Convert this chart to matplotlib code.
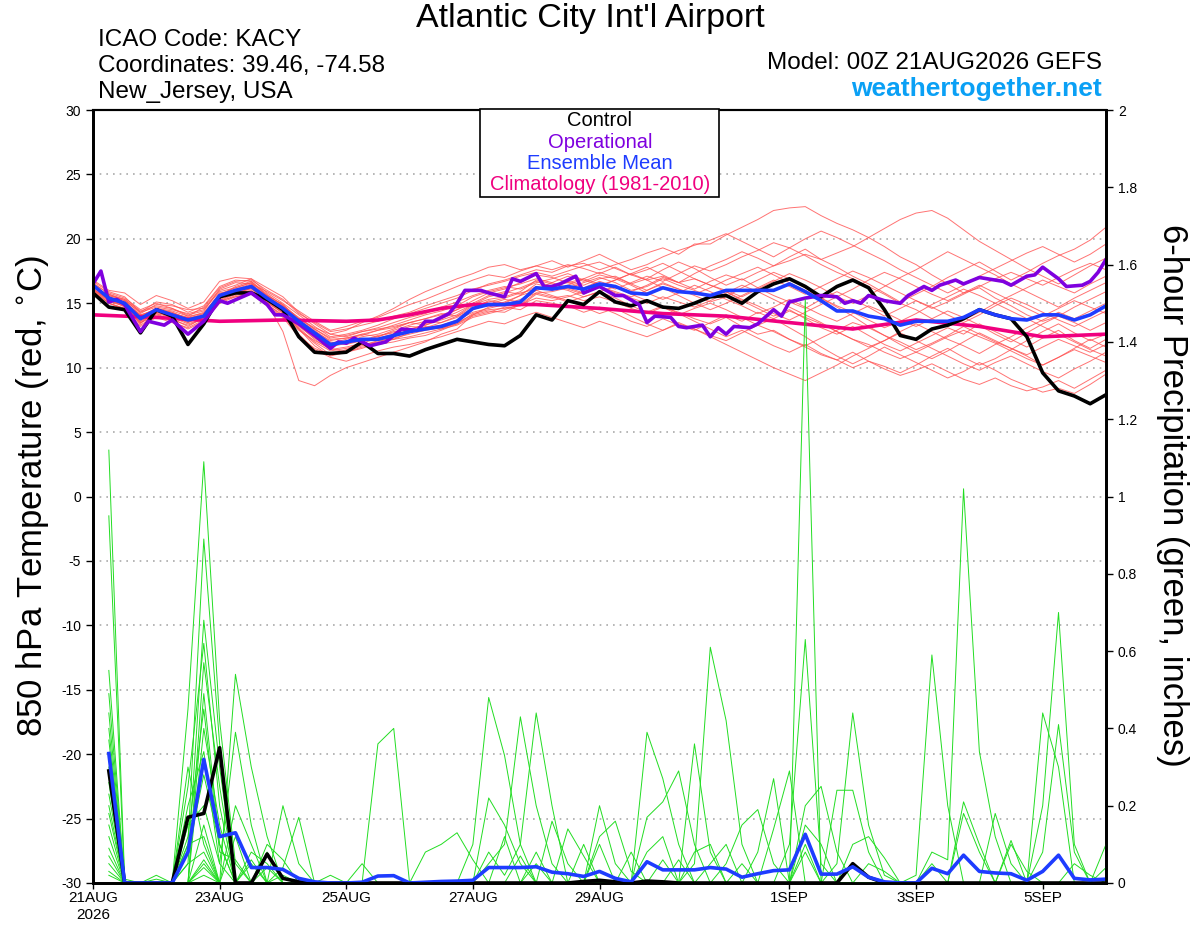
import matplotlib
matplotlib.use('Agg')
import matplotlib.pyplot as plt
from matplotlib.patches import Rectangle

plt.rcParams['font.family'] = ['Liberation Sans', 'DejaVu Sans']
plt.rcParams['axes.unicode_minus'] = False

# ---- data ----
# temperature lines are 6-hourly from 00Z 21AUG (hour 0) to hour 384
temp_hours = list(range(0, 385, 6))
precip_hours = list(range(6, 385, 6))

control_temp = [15.8, 14.7, 14.5, 12.7, 14.5, 14.0, 11.8, 13.4, 15.5, 15.8, 15.8, 15.3, 14.5,
                12.4, 11.2, 11.1, 11.2, 12.0, 11.1, 11.1, 10.9, 11.4, 11.8, 12.2, 12.0, 11.8,
                11.7, 12.5, 14.1, 13.7, 15.2, 14.9, 15.9, 15.1, 14.8, 15.2, 14.7, 14.6, 15.0,
                15.5, 15.6, 15.0, 15.9, 16.5, 16.9, 16.3, 15.5, 16.3, 16.8, 16.2, 14.5, 12.5,
                12.2, 13.0, 13.3, 13.8, 14.5, 14.1, 13.8, 12.4, 9.6, 8.2, 7.8, 7.2, 7.9]

mean_temp = [16.4, 15.4, 15.0, 13.8, 14.5, 14.1, 13.7, 14.0, 15.6, 16.0, 16.3, 15.4, 14.6,
             13.6, 12.7, 11.8, 12.0, 12.2, 12.2, 12.5, 12.8, 13.0, 13.2, 13.6, 14.6, 14.9,
             14.9, 15.1, 16.2, 16.1, 16.3, 16.1, 16.5, 16.3, 15.8, 15.7, 16.2, 15.9, 15.8,
             15.6, 16.0, 16.0, 16.0, 16.0, 16.5, 15.9, 15.2, 14.4, 14.4, 14.0, 13.8, 13.3,
             13.6, 13.6, 13.6, 13.9, 14.5, 14.1, 13.8, 13.7, 14.1, 14.1, 13.7, 14.1, 14.8]

# operational run has finer steps
op_hours = [0, 3, 6, 9, 12, 18, 21, 27, 30, 36, 42, 48, 51, 60, 66, 69, 72, 78, 84, 90,
            93, 96, 99, 105, 111, 117, 123, 126, 129, 135, 138, 141, 147, 150, 156, 159, 162, 168, 171, 174,
            177, 183, 186, 192, 198, 201, 207, 210, 213, 219, 222, 225, 231, 234, 237, 240, 243, 249, 252, 258,
            261, 264, 270, 276, 282, 285, 288, 291, 294, 300, 306, 309, 315, 318, 321, 327, 330, 336, 342, 345,
            348, 354, 357, 360, 366, 369, 375, 378, 381, 384]
op_temp = [16.5, 17.5, 15.1, 15.3, 14.9, 12.8, 13.6, 13.3, 13.7, 12.6, 13.6, 15.2, 15.0, 15.8, 14.9, 14.1, 14.1, 13.4, 12.5, 11.5,
           12.0, 11.9, 12.3, 11.7, 12.0, 13.0, 12.9, 13.6, 13.6, 14.2, 15.0, 16.0, 16.0, 15.8, 15.5, 16.9, 16.7, 17.3, 16.3, 16.3,
           16.5, 17.1, 15.8, 16.3, 15.6, 15.6, 14.9, 13.5, 14.0, 13.9, 13.2, 13.1, 13.3, 12.4, 13.1, 12.6, 13.2, 13.1, 13.4, 14.5,
           14.0, 15.1, 15.4, 15.6, 15.5, 15.0, 15.2, 15.0, 15.6, 15.2, 15.0, 15.6, 16.3, 16.0, 16.4, 16.8, 16.5, 17.0, 16.8, 16.7,
           16.4, 17.1, 17.2, 17.8, 16.9, 16.3, 16.4, 16.7, 17.4, 18.4]

clim_hours = [0, 24, 48, 72, 96, 108, 120, 132, 144, 168, 192, 216, 240, 264, 288, 312, 336, 360, 384]
clim_temp = [14.1, 13.9, 13.6, 13.7, 13.6, 13.7, 14.1, 14.6, 14.9, 14.9, 14.6, 14.2, 14.0, 13.5, 13.0, 13.7, 13.2, 12.4, 12.6]

member_temps = [
    [16.2, 15.6, 15.3, 14.2, 14.9, 14.8, 14.5, 14.6, 16.0, 16.4, 16.9, 15.8, 15.0,
     14.1, 13.2, 12.4, 12.6, 12.9, 13.3, 13.8, 14.2, 14.6, 15.0, 15.4, 16.0, 16.5,
     16.8, 17.2, 17.6, 17.4, 17.9, 18.1, 17.6, 18.0, 18.4, 18.9, 19.3, 18.8, 19.6,
     19.6, 20.3, 20.9, 21.5, 22.2, 22.4, 22.5, 21.8, 21.2, 20.7, 20.1, 19.4, 18.6,
     18.0, 17.2, 16.5, 15.8, 16.2, 15.4, 14.8, 14.1, 13.6, 14.0, 14.7, 15.3, 15.9],
    [16.0, 15.0, 14.6, 13.5, 14.0, 13.8, 13.2, 13.9, 15.4, 15.8, 16.0, 15.1, 14.2,
     13.0, 11.9, 11.0, 11.4, 11.8, 11.9, 12.3, 12.6, 12.9, 13.1, 13.4, 14.2, 14.5,
     14.6, 14.8, 15.7, 15.4, 15.6, 15.2, 15.5, 15.1, 14.6, 14.2, 14.7, 14.3, 13.8,
     13.4, 13.9, 13.2, 12.6, 12.9, 12.2, 11.6, 11.0, 10.6, 11.2, 10.5, 9.9, 9.4,
     9.8, 10.3, 9.7, 9.1, 8.7, 9.2, 8.6, 8.2, 8.5, 9.0, 8.4, 9.1, 9.8],
    [16.6, 15.2, 14.9, 13.4, 14.6, 14.2, 13.9, 14.3, 15.7, 16.2, 16.6, 15.0, 12.8,
     9.0, 8.6, 9.4, 10.0, 10.4, 10.8, 11.2, 11.6, 12.0, 12.6, 13.0, 14.1, 14.4,
     14.3, 14.9, 15.8, 15.9, 16.2, 16.6, 17.0, 16.6, 16.0, 16.3, 16.9, 16.4, 16.0,
     15.5, 15.9, 15.2, 14.6, 14.0, 14.5, 13.8, 13.1, 12.6, 13.2, 12.5, 11.8, 11.3,
     11.9, 12.5, 13.1, 12.6, 13.4, 12.8, 12.2, 11.6, 12.3, 12.9, 12.1, 11.5, 12.2],
    [16.8, 16.0, 15.8, 14.9, 15.6, 15.2, 14.6, 15.1, 16.7, 17.0, 16.9, 16.2, 15.5,
     14.3, 13.4, 12.6, 12.4, 12.8, 13.0, 13.2, 13.5, 13.3, 13.7, 14.1, 14.9, 15.3,
     15.5, 15.9, 16.8, 16.5, 16.1, 15.7, 16.3, 16.8, 17.3, 17.8, 17.2, 16.6, 17.3,
     17.9, 18.4, 19.0, 18.5, 17.9, 18.6, 19.2, 18.4, 17.8, 17.1, 16.5, 15.8, 15.1,
     15.7, 16.3, 17.0, 17.6, 18.2, 17.5, 16.8, 17.4, 18.1, 18.7, 19.2, 19.9, 20.9],
    [16.3, 15.5, 15.1, 13.6, 14.3, 14.0, 13.5, 14.0, 15.5, 15.9, 16.1, 15.3, 14.8,
     13.9, 13.0, 12.2, 12.3, 12.6, 12.4, 12.9, 13.3, 13.6, 13.5, 14.0, 14.6, 15.2,
     15.0, 15.6, 16.5, 16.2, 16.7, 16.4, 16.9, 17.1, 16.5, 16.0, 16.6, 16.1, 15.6,
     15.1, 15.5, 16.2, 16.8, 17.4, 16.9, 16.2, 15.4, 14.7, 14.0, 13.2, 12.5, 11.8,
     11.2, 10.7, 11.3, 12.0, 12.7, 12.1, 11.5, 10.9, 10.2, 10.8, 11.5, 12.2, 11.6],
    [16.5, 15.8, 15.4, 14.5, 15.0, 14.6, 14.1, 14.4, 16.1, 16.6, 16.5, 15.9, 15.2,
     14.4, 13.6, 12.9, 13.2, 13.6, 13.9, 14.4, 14.9, 15.3, 15.8, 16.3, 16.8, 17.2,
     17.0, 17.5, 17.9, 17.6, 18.0, 17.7, 17.3, 17.8, 17.2, 16.8, 17.1, 16.6, 16.9,
     16.4, 16.0, 15.5, 16.1, 16.7, 17.3, 16.8, 16.2, 15.5, 15.0, 15.6, 16.3, 17.0,
     17.6, 18.3, 19.0, 18.4, 17.8, 17.2, 16.5, 15.9, 15.3, 14.7, 15.4, 16.0, 16.6],
    [16.1, 15.3, 14.7, 13.9, 14.2, 13.6, 13.0, 13.6, 15.0, 15.5, 15.8, 14.9, 14.1,
     12.9, 12.1, 11.5, 11.2, 11.6, 11.8, 12.0, 12.3, 12.5, 12.9, 13.4, 14.0, 14.3,
     14.7, 14.5, 15.2, 15.0, 14.8, 14.3, 14.7, 14.2, 13.6, 13.2, 13.8, 13.3, 12.9,
     13.5, 14.1, 13.6, 14.3, 13.8, 13.1, 12.4, 11.6, 10.9, 10.3, 10.9, 11.6, 11.0,
     10.4, 9.8, 9.2, 9.7, 10.4, 9.8, 9.1, 8.6, 8.1, 8.4, 8.0, 8.7, 9.5],
    [16.4, 15.1, 14.8, 13.7, 14.5, 14.3, 13.8, 14.1, 15.8, 16.0, 16.4, 15.6, 14.9,
     13.7, 12.9, 12.0, 11.8, 12.1, 12.5, 12.7, 13.2, 13.1, 13.5, 13.9, 14.5, 14.9,
     15.3, 15.1, 16.0, 16.3, 16.6, 16.2, 16.7, 16.3, 15.9, 16.4, 17.0, 16.6, 16.1,
     16.7, 17.2, 16.8, 17.4, 17.9, 18.3, 18.8, 18.4, 18.9, 19.4, 20.1, 20.8, 21.5,
     22.0, 22.2, 21.6, 20.7, 19.8, 19.1, 18.4, 17.7, 17.1, 16.5, 17.2, 17.9, 18.5],
    [16.2, 15.7, 15.2, 14.0, 14.6, 14.4, 14.0, 14.2, 15.6, 16.1, 16.5, 15.5, 14.7,
     13.5, 12.5, 11.7, 12.0, 12.4, 12.6, 13.0, 13.5, 13.8, 14.2, 14.0, 14.8, 15.1,
     15.4, 15.8, 16.1, 16.6, 17.1, 16.7, 17.2, 16.9, 16.4, 15.8, 15.3, 15.8, 16.4,
     15.9, 15.3, 14.8, 14.2, 14.7, 15.3, 14.7, 14.1, 13.6, 14.2, 14.8, 14.3, 13.7,
     13.2, 13.8, 14.4, 13.9, 13.3, 12.6, 12.0, 12.7, 13.4, 14.0, 13.5, 12.9, 13.5],
    [16.7, 15.9, 15.5, 14.3, 15.1, 14.9, 14.3, 14.8, 16.3, 16.8, 16.7, 15.7, 14.8,
     13.8, 13.1, 12.6, 12.9, 13.5, 14.0, 14.6, 15.3, 15.9, 16.4, 16.9, 17.3, 17.8,
     18.0, 17.6, 17.9, 18.3, 17.8, 18.3, 18.8, 18.2, 17.6, 18.0, 18.6, 19.1, 19.5,
     19.9, 20.4, 19.8, 19.2, 18.6, 19.3, 18.7, 18.0, 17.4, 16.9, 16.3, 15.7, 15.0,
     14.5, 13.8, 13.2, 13.7, 14.3, 15.0, 15.6, 16.2, 16.8, 16.3, 15.8, 16.5, 17.1],
    [15.9, 15.0, 14.5, 13.2, 13.9, 13.5, 13.1, 13.7, 15.2, 15.7, 16.2, 15.0, 14.3,
     13.2, 12.3, 11.6, 11.9, 12.1, 12.4, 12.8, 13.0, 13.3, 13.8, 14.3, 14.9, 15.5,
     15.8, 16.2, 16.7, 16.3, 16.0, 15.5, 15.9, 15.4, 14.8, 14.3, 14.8, 14.2, 13.6,
     13.0, 12.4, 12.9, 12.3, 11.7, 11.2, 11.8, 11.1, 10.6, 10.0, 10.5, 10.1, 9.6,
     10.2, 10.9, 11.5, 10.8, 10.2, 10.7, 11.4, 12.1, 12.8, 13.4, 12.7, 12.1, 12.6],
    [16.5, 15.4, 15.0, 14.1, 14.4, 14.1, 13.6, 13.9, 15.3, 15.7, 16.2, 15.4, 14.5,
     13.3, 12.2, 11.4, 11.6, 11.9, 12.3, 12.6, 12.9, 13.4, 13.9, 14.5, 15.2, 15.8,
     16.1, 16.6, 17.2, 17.0, 16.6, 16.9, 17.4, 17.0, 16.5, 16.9, 17.6, 18.2, 17.7,
     17.0, 16.4, 16.9, 16.2, 15.6, 15.1, 14.6, 15.3, 15.9, 15.3, 14.7, 14.0, 14.6,
     15.2, 14.7, 14.1, 13.5, 14.1, 14.8, 15.4, 14.9, 14.3, 13.7, 13.2, 13.8, 14.4],
    [16.0, 15.2, 14.8, 13.5, 14.2, 13.9, 13.4, 13.8, 15.1, 15.6, 15.9, 14.9, 14.0,
     12.6, 11.4, 10.8, 10.5, 10.9, 11.3, 11.6, 11.8, 12.1, 12.4, 12.8, 13.2, 13.6,
     13.4, 13.9, 14.3, 13.9, 13.5, 13.1, 13.6, 13.2, 12.8, 12.4, 12.9, 13.4, 13.0,
     12.5, 12.1, 12.7, 13.3, 12.8, 12.2, 11.7, 12.3, 12.9, 13.5, 13.1, 12.5, 12.0,
     11.4, 11.9, 12.5, 13.2, 12.6, 12.0, 11.5, 11.0, 11.6, 12.2, 11.7, 11.2, 11.8],
    [16.3, 15.6, 15.2, 14.3, 14.7, 14.5, 14.2, 14.5, 15.9, 16.2, 16.6, 15.6, 14.7,
     13.6, 12.8, 12.1, 12.3, 12.5, 12.9, 13.1, 13.5, 13.8, 14.1, 14.5, 15.0, 15.6,
     15.9, 15.7, 16.3, 16.0, 16.4, 16.9, 16.5, 16.1, 16.6, 17.1, 16.7, 17.3, 17.9,
     17.5, 18.0, 18.6, 19.1, 19.7, 19.3, 20.0, 20.6, 20.1, 19.5, 18.9, 18.3, 17.6,
     17.0, 16.4, 15.8, 16.4, 17.1, 17.7, 18.3, 18.9, 19.4, 18.8, 18.2, 18.8, 19.6],
    [16.1, 15.3, 14.9, 13.3, 14.1, 13.7, 13.3, 13.8, 15.2, 15.5, 15.7, 14.8, 13.9,
     12.4, 11.5, 11.0, 11.3, 11.7, 12.1, 12.2, 12.7, 13.2, 13.0, 13.5, 14.1, 14.7,
     15.1, 15.6, 16.0, 15.6, 15.2, 14.7, 14.2, 14.6, 14.0, 13.4, 12.9, 13.5, 13.0,
     12.4, 11.8, 11.2, 10.6, 10.0, 9.5, 9.0, 9.6, 10.2, 10.9, 11.5, 12.1, 12.8,
     13.4, 12.8, 12.2, 11.7, 11.1, 11.8, 12.4, 13.1, 13.7, 14.3, 13.8, 14.4, 15.0],
    [16.6, 15.7, 15.3, 14.4, 14.8, 14.6, 14.0, 14.7, 16.2, 16.7, 16.8, 16.0, 15.3,
     14.2, 13.5, 12.8, 13.0, 13.3, 13.6, 14.0, 14.3, 14.8, 15.2, 15.6, 16.1, 16.4,
     16.7, 17.1, 17.4, 17.1, 17.5, 17.9, 18.2, 17.7, 17.2, 17.6, 18.1, 17.5, 16.9,
     16.4, 15.9, 15.3, 14.8, 14.2, 13.7, 14.3, 14.9, 15.5, 16.1, 16.8, 17.4, 16.9,
     16.3, 15.7, 15.2, 15.8, 16.4, 15.8, 15.2, 14.6, 14.0, 14.6, 15.2, 14.7, 14.2],
    [16.2, 15.0, 14.6, 13.8, 14.3, 13.9, 13.7, 14.0, 15.4, 15.9, 16.2, 15.2, 14.4,
     13.0, 11.7, 10.9, 11.2, 11.5, 11.9, 12.2, 12.4, 12.7, 13.0, 13.3, 13.9, 14.2,
     14.5, 14.9, 15.4, 15.2, 15.5, 15.9, 16.3, 15.8, 15.4, 15.0, 15.5, 15.1, 14.7,
     15.2, 15.8, 16.4, 15.9, 15.3, 14.7, 14.1, 13.5, 12.8, 12.2, 11.6, 12.1, 12.7,
     12.1, 11.5, 10.9, 10.3, 9.8, 10.4, 10.9, 10.3, 9.7, 9.2, 9.9, 10.5, 11.2],
    [16.4, 15.5, 15.0, 14.0, 14.6, 14.3, 13.8, 14.2, 15.7, 16.0, 16.3, 15.4, 14.6,
     13.4, 12.4, 11.9, 12.2, 12.6, 12.9, 13.3, 13.7, 14.1, 14.4, 14.8, 15.5, 15.9,
     16.2, 16.5, 16.9, 16.6, 16.2, 15.8, 16.3, 15.9, 15.5, 16.0, 16.5, 16.1, 15.7,
     16.2, 16.8, 17.3, 17.8, 17.2, 16.6, 16.0, 15.4, 14.8, 14.3, 13.7, 13.1, 13.6,
     14.2, 14.9, 15.5, 16.1, 15.6, 15.0, 14.4, 13.8, 13.2, 12.6, 12.0, 11.4, 10.9],
    [16.0, 15.4, 15.1, 14.1, 14.5, 14.2, 13.9, 14.0, 15.6, 16.3, 16.7, 15.6, 14.9,
     13.8, 13.0, 12.3, 12.5, 12.8, 13.1, 13.5, 13.9, 14.2, 14.7, 15.1, 15.6, 16.0,
     16.3, 16.1, 16.6, 16.9, 17.3, 16.8, 16.4, 16.8, 17.3, 16.8, 16.2, 15.6, 15.0,
     14.5, 15.0, 15.6, 16.2, 16.8, 16.3, 15.7, 16.3, 16.9, 17.5, 17.0, 16.4, 15.8,
     15.2, 14.6, 15.1, 15.7, 16.3, 16.9, 17.4, 16.9, 16.4, 17.0, 17.6, 18.1, 17.6],
    [16.5, 15.3, 14.9, 13.6, 14.4, 14.0, 13.5, 14.1, 15.5, 16.0, 16.4, 15.1, 14.3,
     13.1, 12.0, 11.3, 11.5, 11.8, 12.0, 12.4, 12.8, 13.1, 13.3, 13.7, 14.3, 14.6,
     14.9, 15.3, 15.8, 15.5, 15.1, 15.5, 15.9, 16.3, 15.7, 15.2, 14.7, 14.1, 14.6,
     15.0, 14.5, 13.9, 13.3, 13.8, 14.4, 13.9, 13.4, 12.8, 12.2, 11.8, 11.2, 10.7,
     11.2, 11.8, 12.4, 12.9, 12.4, 11.9, 11.3, 10.7, 10.2, 10.8, 11.4, 10.9, 10.4],
]

control_precip = [0.29, 0, 0, 0, 0, 0.17, 0.18, 0.35, 0, 0, 0.075, 0.012, 0.003, 0, 0, 0,
                  0, 0, 0, 0, 0, 0, 0, 0, 0, 0, 0, 0, 0, 0, 0.004, 0.007,
                  0.003, 0, 0.005, 0.003, 0, 0, 0, 0, 0, 0, 0, 0, 0, 0, 0, 0.05,
                  0.015, 0, 0, 0, 0, 0, 0, 0, 0, 0, 0, 0, 0, 0, 0, 0]

mean_precip = [0.335, 0, 0, 0, 0, 0.08, 0.32, 0.12, 0.13, 0.04, 0.04, 0.035, 0.012, 0.003, 0, 0,
               0.002, 0.018, 0.019, 0, 0.002, 0.004, 0.005, 0.007, 0.04, 0.04, 0.04, 0.042, 0.028, 0.024, 0.017, 0.03,
               0.012, 0.003, 0.055, 0.034, 0.034, 0.034, 0.04, 0.036, 0.015, 0.024, 0.032, 0.034, 0.126, 0.023, 0.023, 0.042,
               0.015, 0.003, 0, 0, 0.038, 0.024, 0.072, 0.03, 0.026, 0.024, 0.007, 0.03, 0.072, 0.012, 0.008, 0.01]

member_precips = [
    [1.12, 0.01, 0, 0, 0, 0.3, 0.1, 0, 0, 0, 0.08, 0, 0, 0, 0, 0,
     0, 0, 0, 0, 0, 0, 0, 0, 0, 0, 0, 0, 0, 0, 0, 0.2,
     0.05, 0, 0, 0, 0, 0, 0, 0, 0, 0, 0, 0, 0, 0, 0, 0,
     0, 0, 0, 0, 0, 0, 0.18, 0.08, 0, 0, 0, 0, 0, 0, 0, 0],
    [0.95, 0, 0, 0, 0, 0.45, 1.09, 0.42, 0.05, 0, 0, 0, 0, 0, 0, 0,
     0, 0, 0, 0, 0, 0, 0, 0, 0, 0, 0, 0, 0, 0, 0, 0.12,
     0.16, 0.03, 0, 0, 0, 0, 0, 0, 0, 0, 0, 0, 0, 0, 0, 0,
     0, 0, 0, 0, 0, 0, 0, 0, 0.18, 0.05, 0, 0, 0, 0, 0, 0],
    [0.55, 0, 0, 0.01, 0, 0, 0.49, 0.1, 0, 0, 0, 0.02, 0, 0, 0, 0,
     0, 0, 0, 0, 0, 0, 0, 0, 0, 0, 0.07, 0, 0, 0, 0, 0,
     0, 0, 0.39, 0.27, 0.1, 0, 0, 0, 0, 0, 0, 0, 0, 0, 0, 0,
     0, 0, 0, 0, 0, 0, 0, 0, 0, 0.11, 0, 0, 0, 0, 0, 0],
    [0.49, 0, 0, 0, 0, 0.2, 0.34, 0.05, 0, 0, 0.04, 0, 0, 0, 0, 0,
     0, 0, 0, 0, 0, 0, 0, 0, 0, 0, 0, 0.05, 0, 0, 0, 0,
     0, 0, 0.17, 0.21, 0.29, 0.1, 0, 0, 0, 0, 0, 0, 0, 0, 0, 0,
     0, 0, 0, 0, 0, 0, 0, 0, 0, 0.1, 0.03, 0, 0, 0, 0, 0],
    [0.44, 0, 0, 0, 0, 0.1, 0.89, 0.36, 0, 0, 0, 0, 0, 0, 0, 0,
     0, 0, 0, 0, 0, 0, 0, 0, 0, 0, 0, 0, 0, 0, 0, 0,
     0, 0.08, 0, 0, 0, 0.36, 0.08, 0, 0, 0, 0, 0, 0, 0, 0, 0,
     0, 0, 0, 0, 0, 0, 0, 0, 0, 0, 0, 0.44, 0.3, 0, 0, 0],
    [0.4, 0, 0, 0, 0, 0.15, 0.2, 0.05, 0.39, 0.15, 0, 0, 0, 0, 0, 0,
     0, 0, 0, 0, 0, 0, 0, 0, 0, 0, 0, 0, 0, 0.14, 0.07, 0,
     0, 0, 0, 0, 0, 0.05, 0.61, 0.42, 0.1, 0, 0, 0, 0, 0, 0, 0,
     0, 0, 0, 0, 0, 0, 0, 0, 0, 0, 0, 0.2, 0.7, 0.1, 0, 0],
    [0.37, 0, 0, 0, 0, 0.05, 0.68, 0.3, 0, 0, 0, 0, 0, 0, 0, 0,
     0, 0, 0, 0, 0, 0, 0, 0, 0, 0, 0, 0, 0, 0, 0.1, 0,
     0, 0, 0, 0, 0, 0, 0, 0.05, 0.15, 0.19, 0.05, 0, 0, 0, 0, 0,
     0, 0, 0, 0, 0, 0, 0, 0, 0, 0, 0, 0.08, 0.41, 0.08, 0, 0],
    [0.33, 0, 0, 0.02, 0, 0, 0.05, 0, 0.12, 0, 0, 0.2, 0.05, 0, 0, 0,
     0, 0, 0, 0, 0, 0, 0, 0, 0, 0, 0, 0, 0, 0, 0, 0.1,
     0, 0, 0, 0, 0, 0, 0, 0, 0, 0.08, 0.27, 0, 0, 0, 0, 0,
     0, 0, 0, 0, 0, 0, 0, 0, 0, 0, 0, 0, 0, 0.05, 0.02, 0],
    [0.3, 0, 0, 0, 0, 0.25, 0.62, 0.2, 0, 0, 0, 0.04, 0.17, 0, 0, 0,
     0, 0, 0, 0, 0, 0, 0, 0, 0, 0, 0, 0, 0, 0, 0, 0,
     0, 0, 0.08, 0.12, 0, 0, 0, 0, 0, 0, 0.14, 0.29, 0, 0, 0, 0,
     0, 0, 0, 0, 0, 0, 0, 0, 0, 0, 0, 0, 0, 0, 0, 0.1],
    [0.26, 0, 0, 0, 0, 0.1, 0.12, 0, 0.54, 0.3, 0.12, 0, 0, 0, 0, 0,
     0, 0, 0, 0, 0, 0, 0, 0, 0, 0, 0, 0, 0, 0, 0, 0,
     0, 0, 0, 0.06, 0, 0, 0, 0, 0, 0, 0, 0, 1.51, 0, 0, 0,
     0, 0, 0, 0, 0, 0, 0, 0, 0, 0, 0, 0, 0, 0, 0, 0],
    [0.23, 0, 0, 0, 0, 0, 0.57, 0.25, 0, 0, 0, 0, 0, 0, 0.02, 0,
     0, 0, 0, 0, 0, 0, 0, 0, 0, 0, 0, 0, 0, 0, 0, 0,
     0, 0, 0, 0, 0.06, 0, 0, 0, 0, 0, 0, 0.1, 0.63, 0.05, 0, 0,
     0, 0, 0, 0, 0, 0, 0, 0, 0, 0, 0, 0, 0, 0, 0, 0],
    [0.2, 0, 0, 0, 0, 0.12, 0.45, 0.08, 0.06, 0, 0, 0, 0, 0, 0, 0,
     0.05, 0, 0, 0, 0, 0, 0, 0, 0, 0, 0, 0, 0, 0, 0, 0,
     0, 0, 0, 0, 0, 0.08, 0.1, 0, 0, 0, 0, 0, 0.2, 0.25, 0.08, 0,
     0, 0, 0, 0, 0, 0, 0, 0, 0, 0, 0, 0, 0, 0, 0, 0],
    [0.18, 0, 0, 0, 0, 0, 0.4, 0.15, 0, 0, 0, 0, 0, 0, 0, 0,
     0, 0.36, 0.4, 0, 0, 0, 0, 0, 0, 0, 0, 0, 0, 0, 0, 0,
     0, 0, 0, 0, 0, 0, 0.05, 0.1, 0, 0, 0, 0, 0.15, 0.1, 0, 0,
     0, 0, 0, 0, 0, 0, 0, 0, 0, 0, 0, 0, 0, 0, 0, 0],
    [0.15, 0, 0, 0, 0, 0.08, 0.28, 0.1, 0, 0, 0, 0, 0, 0, 0, 0,
     0, 0, 0, 0, 0.08, 0.1, 0.13, 0.06, 0, 0, 0, 0, 0, 0, 0, 0,
     0, 0, 0, 0, 0, 0, 0, 0, 0.05, 0, 0, 0, 0.1, 0, 0.24, 0.24,
     0.08, 0, 0, 0, 0, 0, 0, 0, 0, 0, 0, 0, 0, 0, 0, 0],
    [0.12, 0, 0, 0, 0, 0, 0.15, 0, 0.2, 0.1, 0, 0, 0, 0, 0, 0,
     0, 0, 0, 0, 0, 0, 0, 0.1, 0.48, 0.33, 0.1, 0, 0, 0, 0, 0,
     0, 0, 0, 0, 0, 0, 0, 0, 0, 0, 0, 0, 0.08, 0, 0.05, 0.44,
     0.15, 0.02, 0, 0, 0, 0, 0, 0, 0, 0, 0, 0, 0, 0, 0, 0],
    [0.09, 0, 0, 0, 0, 0.05, 0.08, 0, 0, 0.08, 0.05, 0, 0, 0, 0, 0,
     0, 0, 0, 0, 0, 0, 0, 0, 0.22, 0.15, 0.05, 0, 0, 0, 0, 0,
     0, 0, 0, 0, 0, 0, 0, 0, 0, 0, 0, 0, 0, 0, 0, 0.1,
     0.12, 0.065, 0, 0, 0, 0, 0, 0, 0, 0, 0, 0, 0, 0, 0, 0],
    [0.07, 0, 0, 0, 0, 0, 0.06, 0, 0, 0.05, 0, 0, 0, 0, 0, 0,
     0, 0, 0, 0, 0, 0, 0, 0, 0.05, 0.1, 0.43, 0.2, 0.05, 0, 0, 0,
     0, 0, 0, 0, 0, 0, 0, 0, 0, 0, 0, 0, 0, 0, 0, 0,
     0.05, 0.03, 0, 0, 0, 0, 0, 0, 0, 0, 0, 0, 0, 0, 0, 0],
    [0.05, 0, 0, 0, 0, 0, 0.04, 0, 0, 0.06, 0, 0, 0, 0, 0, 0,
     0, 0, 0, 0, 0, 0, 0, 0, 0.08, 0.02, 0.1, 0.44, 0.2, 0, 0, 0,
     0, 0, 0, 0, 0, 0, 0, 0, 0, 0, 0, 0, 0, 0, 0, 0,
     0, 0, 0, 0.02, 0.59, 0.2, 0, 0, 0, 0, 0, 0, 0, 0, 0, 0],
    [0.03, 0, 0, 0, 0, 0, 0.02, 0, 0, 0, 0.1, 0.06, 0, 0, 0, 0,
     0, 0, 0, 0, 0, 0, 0, 0, 0, 0.12, 0, 0.08, 0, 0, 0, 0,
     0, 0, 0, 0, 0, 0, 0, 0, 0, 0, 0, 0, 0, 0, 0, 0,
     0, 0, 0, 0, 0.08, 0.06, 1.02, 0.34, 0.12, 0, 0, 0, 0, 0, 0, 0],
    [0.02, 0, 0, 0, 0, 0, 0, 0, 0, 0, 0, 0, 0, 0, 0, 0,
     0, 0, 0, 0, 0, 0, 0, 0, 0, 0, 0, 0, 0.16, 0.05, 0, 0,
     0, 0, 0, 0, 0, 0, 0, 0, 0, 0, 0, 0, 0, 0, 0, 0,
     0, 0, 0, 0, 0.05, 0, 0.21, 0.1, 0, 0, 0, 0, 0, 0, 0, 0.04],
]

date_ticks = [0, 48, 96, 144, 192, 264, 312, 360]
date_labels = ['21AUG\n2026', '23AUG', '25AUG', '27AUG', '29AUG', '1SEP', '3SEP', '5SEP']
temp_ticks = [30, 25, 20, 15, 10, 5, 0, -5, -10, -15, -20, -25, -30]
precip_ticks = [0, 0.2, 0.4, 0.6, 0.8, 1, 1.2, 1.4, 1.6, 1.8, 2]
precip_tick_labels = ['0', '0.2', '0.4', '0.6', '0.8', '1', '1.2', '1.4', '1.6', '1.8', '2']

for m in member_temps:
    assert len(m) == len(temp_hours)
for m in member_precips:
    assert len(m) == len(precip_hours)

# ---- figure ----
fig = plt.figure(figsize=(12, 9.27), dpi=100)
ax = fig.add_axes([93 / 1200, 1 - 883 / 927, 1013 / 1200, 773 / 927])

for m in member_temps:
    ax.plot(temp_hours, m, color='#ff5050', lw=0.7, alpha=0.8)
ax.plot(clim_hours, clim_temp, color='#f0007f', lw=2.6)
ax.plot(temp_hours, control_temp, color='black', lw=2.6)
ax.plot(op_hours, op_temp, color='#7f00df', lw=2.6)
ax.plot(temp_hours, mean_temp, color='#1e3cff', lw=2.6)

ax.set_xlim(0, 384)
ax.set_ylim(-30, 30)
ax.set_yticks(temp_ticks)
ax.set_yticklabels([str(t) for t in temp_ticks])
ax.set_xticks(date_ticks)
ax.set_xticklabels(date_labels)
ax.yaxis.grid(True, linestyle=(0, (1, 3)), color='#aaaaaa', lw=1.2)
ax.tick_params(axis='y', direction='out', length=5, width=1, labelsize=10)
ax.tick_params(axis='x', direction='out', length=4, width=1, labelsize=11, pad=2)

ax2 = ax.twinx()
for m in member_precips:
    ax2.plot(precip_hours, m, color='#22dd22', lw=0.7)
ax2.plot(precip_hours, control_precip, color='black', lw=2.6)
ax2.plot(precip_hours, mean_precip, color='#1e3cff', lw=2.6)
ax2.set_ylim(0, 2)
ax2.set_xlim(0, 384)
ax2.set_yticks(precip_ticks)
ax2.set_yticklabels(precip_tick_labels)
ax2.tick_params(axis='y', direction='out', length=5, width=1, labelsize=10)

for a in (ax, ax2):
    for side in ['left', 'right', 'bottom']:
        a.spines[side].set_linewidth(2)
    a.spines['top'].set_linewidth(1.5)

# axis titles
fig.text(33 / 1200, 1 - 496 / 927, '850 hPa Temperature (red, $^{\\circ}$C)',
         rotation=90, ha='center', va='center', fontsize=25)
fig.text(1172 / 1200, 1 - 495 / 927, '6-hour Precipitation (green, inches)',
         rotation=270, ha='center', va='center', fontsize=25)

# header
fig.text(590 / 1200, 1 - 18 / 927, "Atlantic City Int'l Airport", ha='center', va='center', fontsize=24.5)
fig.text(98 / 1200, 1 - 40 / 927, 'ICAO Code: KACY', ha='left', va='center', fontsize=17.5)
fig.text(98 / 1200, 1 - 66 / 927, 'Coordinates: 39.46, -74.58', ha='left', va='center', fontsize=17.5)
fig.text(98 / 1200, 1 - 92 / 927, 'New_Jersey, USA', ha='left', va='center', fontsize=17.5)
fig.text(1102 / 1200, 1 - 63 / 927, 'Model: 00Z 21AUG2026 GEFS', ha='right', va='center', fontsize=17.5)
fig.text(1102 / 1200, 1 - 89 / 927, 'weathertogether.net', ha='right', va='center',
         fontsize=19, fontweight='bold', color='#0aa0f5')

# legend box
fig.add_artist(Rectangle((480 / 1200, 1 - 197 / 927), 239 / 1200, 88 / 927,
                         transform=fig.transFigure, facecolor='white', edgecolor='black', lw=1.2, zorder=10))
legend_items = [('Control', 'black'), ('Operational', '#7f00df'),
                ('Ensemble Mean', '#1e3cff'), ('Climatology (1981-2010)', '#f0007f')]
for k, (txt, col) in enumerate(legend_items):
    fig.text(600 / 1200, 1 - (121 + 21.3 * k) / 927, txt, ha='center', va='center',
             fontsize=14.5, color=col, zorder=11)

fig.savefig('out.png', dpi=100)
